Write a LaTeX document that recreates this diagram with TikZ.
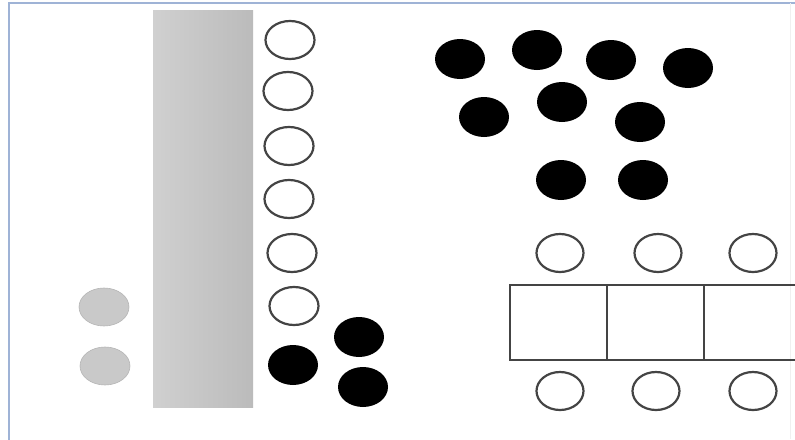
\documentclass[tikz,border=0pt]{standalone}
\usetikzlibrary{shapes.geometric}
\definecolor{framec}{HTML}{9FB3D6}
\definecolor{ringc}{HTML}{444444}
\definecolor{barl}{HTML}{D0D0D0}
\definecolor{barr}{HTML}{BBBBBB}
\definecolor{dotg}{HTML}{C9C9C9}
\tikzset{
  seat/.style={ellipse,draw=ringc,line width=2.2pt,fill=white,minimum width=49pt,minimum height=38pt,inner sep=0pt},
  blk/.style={ellipse,fill=black,minimum width=50pt,minimum height=40pt,inner sep=0pt},
  gdot/.style={ellipse,fill=dotg,draw=dotg!90!black,line width=0.6pt,minimum width=50pt,minimum height=38pt,inner sep=0pt},
  tbl/.style={draw=ringc,line width=1.9pt}
}
\begin{document}
\begin{tikzpicture}[x=1pt,y=-1pt]
\useasboundingbox (0,0) rectangle (795,439);
\clip (0,0) rectangle (795,439);
\fill[white] (0,0) rectangle (795,439);
% frame
\draw[framec,line width=2pt] (9,440) -- (9,3) -- (795,3);
\draw[black!6,line width=1pt] (790,3) -- (790,439);
% bar
\shade[left color=barl,right color=barr] (153,10) rectangle (253,407);
\node[draw=none,minimum width=100pt,minimum height=397pt,inner sep=0pt] (bar) at (203,208.5) {};
% left column seats
\node[seat] (s1) at (290,40) {};
\node[seat] (s2) at (288,91) {};
\node[seat] (s3) at (289,146) {};
\node[seat] (s4) at (289,199) {};
\node[seat] (s5) at (292,253) {};
\node[seat] (s6) at (294,306) {};
% gray dots
\node[gdot] (g1) at (104,307) {};
\node[gdot] (g2) at (105,366) {};
% black dots lower left
\node[blk] (b1) at (293,365) {};
\node[blk] (b2) at (359,337) {};
\node[blk] (b3) at (363,387) {};
% black dots top right
\node[blk] (t1) at (460,59) {};
\node[blk] (t2) at (537,50) {};
\node[blk] (t3) at (611,60) {};
\node[blk] (t4) at (688,68) {};
\node[blk] (t5) at (484,117) {};
\node[blk] (t6) at (562,102) {};
\node[blk] (t7) at (640,122) {};
\node[blk] (t8) at (561,180) {};
\node[blk] (t9) at (643,180) {};
% table
\node[tbl,minimum width=97pt,minimum height=75pt,inner sep=0pt] (r1) at (558.5,322.5) {};
\node[tbl,minimum width=97pt,minimum height=75pt,inner sep=0pt] (r2) at (655.5,322.5) {};
\node[tbl,minimum width=97pt,minimum height=75pt,inner sep=0pt] (r3) at (752.5,322.5) {};
% table seats
\node[seat,minimum width=47pt,minimum height=38pt] (u1) at (560,253) {};
\node[seat,minimum width=47pt,minimum height=38pt] (u2) at (658,253) {};
\node[seat,minimum width=47pt,minimum height=38pt] (u3) at (753,253) {};
\node[seat,minimum width=47pt,minimum height=38pt] (d1) at (560,391) {};
\node[seat,minimum width=47pt,minimum height=38pt] (d2) at (656,391) {};
\node[seat,minimum width=47pt,minimum height=38pt] (d3) at (753,391) {};
\end{tikzpicture}
\end{document}
